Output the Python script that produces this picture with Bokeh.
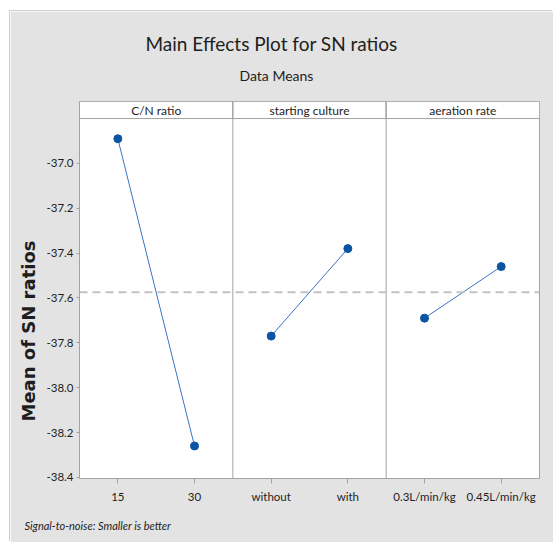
import numpy as np
from bokeh.plotting import figure
from bokeh.models import Range1d, FixedTicker, NumeralTickFormatter, Span, Title
from bokeh.core.properties import value
from bokeh.embed import file_html
from bokeh.resources import INLINE

# ---- data ----
factors = ["C/N ratio", "starting culture", "aeration rate"]
cn_levels = ["15", "30"]
cn_means = [-36.89, -38.26]
culture_levels = ["without", "with"]
culture_means = [-37.77, -37.38]
aeration_levels = ["0.3L/min/kg", "0.45L/min/kg"]
aeration_means = [-37.69, -37.46]
y_ticks = [-37.0, -37.2, -37.4, -37.6, -37.8, -38.0, -38.2, -38.4]

levels = [cn_levels, culture_levels, aeration_levels]
means = [cn_means, culture_means, aeration_means]
grand_mean = float(np.mean(cn_means + culture_means + aeration_means))

FONT = "Lato"
GRAY_BG = "#e3e3e3"
BORDER = "#a3a3a3"
BLUE_LINE = "#3a74c4"
BLUE_PT = "#0b54a4"
TXT = "#1e1e1e"

y_bottom = -38.405
y_top_data = -36.80
header_h = 0.076
n_f = len(factors)

p = figure(width=543, height=531, x_range=Range1d(0, 2 * n_f),
           y_range=Range1d(y_bottom, y_top_data + header_h),
           output_backend="svg", toolbar_location=None,
           min_border_left=67, min_border_right=14,
           min_border_top=90, min_border_bottom=64,
           styles={"margin-left": "10px", "margin-top": "11px",
                   "box-shadow": "-1px -1px 0 0 #cdcdcd"})
p.title.visible = False
p.background_fill_color = "white"
p.border_fill_color = GRAY_BG
p.outline_line_color = BORDER
p.xgrid.visible = False
p.ygrid.visible = False

# x axis
tick_pos = []
overrides = {}
for i, lv in enumerate(levels):
    for j, name in enumerate(lv):
        pos = 2 * i + 0.5 + j
        tick_pos.append(pos)
        overrides[pos] = name
p.xaxis.ticker = FixedTicker(ticks=tick_pos)
p.xaxis.major_label_overrides = overrides
p.yaxis.ticker = FixedTicker(ticks=y_ticks)
p.yaxis.formatter = NumeralTickFormatter(format="0.0")
for ax in (p.xaxis, p.yaxis):
    ax.axis_line_color = BORDER
    ax.major_tick_line_color = BORDER
    ax.minor_tick_line_color = None
    ax.major_label_text_font = FONT
    ax.major_label_text_font_size = "11.5px"
    ax.major_label_text_color = TXT
p.xaxis.major_tick_out = 5
p.xaxis.major_tick_in = 0
p.xaxis.major_label_standoff = 6
p.xaxis.axis_label = " "
p.xaxis.axis_label_text_font_size = "1px"
p.xaxis.axis_label_standoff = 2
p.yaxis.major_tick_out = 3
p.yaxis.major_tick_in = 0
p.yaxis.major_label_standoff = 3

# header strip
p.quad(left=[2 * i for i in range(n_f)], right=[2 * i + 2 for i in range(n_f)],
       bottom=y_top_data, top=y_top_data + header_h,
       fill_color="white", line_color=BORDER, line_width=1)
p.text(x=[2 * i + 1 for i in range(n_f)], y=[y_top_data + header_h / 2] * n_f,
       text=factors, text_align="center", text_baseline="middle",
       text_font=value(FONT), text_font_size="12px", text_color=TXT)

# panel dividers
for i in range(1, n_f):
    p.add_layout(Span(location=2 * i, dimension="height", line_color=BORDER, line_width=1))

# grand mean reference line
p.add_layout(Span(location=grand_mean, dimension="width", line_color="#c2c2c2",
                  line_width=2, line_dash="8 5"))

# main effects
for i, mv in enumerate(means):
    xs = [2 * i + 0.5 + j for j in range(len(mv))]
    p.line(xs, mv, line_color=BLUE_LINE, line_width=1)
    p.scatter(xs, mv, size=8, fill_color=BLUE_PT, line_color=BLUE_PT)

# titles (a blank spacer title keeps the subtitle off the panel headers)
p.add_layout(Title(text=" ", text_font_size="1px"), "above")
p.add_layout(Title(text="Data Means", align="left", offset=160,
                   text_font=FONT, text_font_size="14px", text_font_style="normal",
                   text_color=TXT), "above")
p.add_layout(Title(text="Main Effects Plot for SN ratios", align="left", offset=66,
                   text_font=FONT, text_font_size="19px", text_font_style="normal",
                   text_color=TXT), "above")
p.add_layout(Title(text="Mean of SN ratios", align="left", offset=57,
                   text_font="DejaVu Sans", text_font_size="18px", text_font_style="bold",
                   text_color=TXT), "left")
p.add_layout(Title(text="Signal-to-noise: Smaller is better", align="left", offset=-55,
                   text_font=FONT, text_font_size="11px", text_font_style="italic",
                   text_color=TXT), "below")

open("out.html", "w").write(file_html(p, INLINE))
